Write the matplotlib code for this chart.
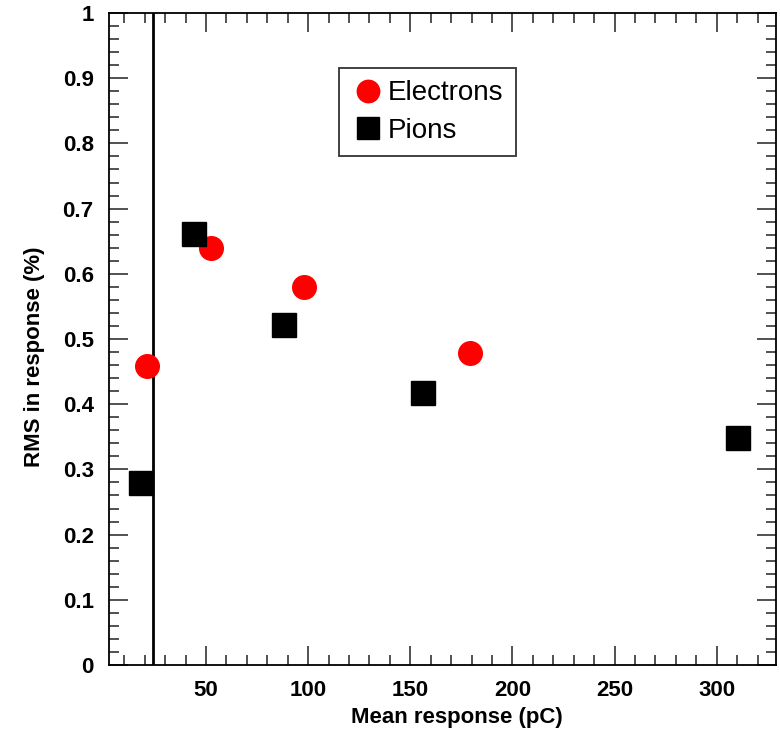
#!/usr/bin/env python3
"""RMS of response vs mean response for electrons and pions."""

import matplotlib
matplotlib.use("Agg")
import matplotlib.pyplot as plt
from matplotlib.ticker import MultipleLocator, FuncFormatter

plt.rcParams["font.family"] = ["Liberation Sans", "DejaVu Sans"]

# data
electron_mean = [21.1, 52.5, 98.1, 179.0]
electron_rms = [0.459, 0.640, 0.580, 0.479]
pion_mean = [18.2, 44.2, 88.3, 156.4, 310.3]
pion_rms = [0.279, 0.661, 0.521, 0.417, 0.348]
cut_x = 24.1

X_RANGE = (2.5, 329)
Y_RANGE = (0, 1)


def fmt_y(v, pos):
    if abs(v - round(v)) < 1e-9:
        return f"{int(round(v))}"
    return f"{v:.1f}"


def main():
    fig = plt.figure(figsize=(7.8, 7.33), dpi=100)
    ax = fig.add_axes([109 / 780, 68 / 733, 667 / 780, 652 / 733])

    ax.axvline(cut_x, color="black", lw=2.0, zorder=2)
    ax.plot(electron_mean, electron_rms, "o", color="#ff0000", ms=17,
            mec="#ff0000", label="Electrons", zorder=3)
    ax.plot(pion_mean, pion_rms, "s", color="black", ms=17,
            label="Pions", zorder=3)

    ax.set_xlim(*X_RANGE)
    ax.set_ylim(*Y_RANGE)

    ax.xaxis.set_major_locator(MultipleLocator(50))
    ax.xaxis.set_minor_locator(MultipleLocator(10))
    ax.yaxis.set_major_locator(MultipleLocator(0.1))
    ax.yaxis.set_minor_locator(MultipleLocator(0.02))
    ax.yaxis.set_major_formatter(FuncFormatter(fmt_y))

    ax.tick_params(which="both", direction="in", top=True, right=True,
                   width=1.2, color="#333333")
    ax.tick_params(which="major", length=14, labelsize=16, pad=11)
    ax.tick_params(which="minor", length=7)
    for lab in ax.get_xticklabels() + ax.get_yticklabels():
        lab.set_fontweight("bold")
    for sp in ax.spines.values():
        sp.set_linewidth(1.3)

    fig.text(457 / 780, 1 - 718 / 733, "Mean response (pC)", ha="center",
             va="center", fontsize=16, fontweight="bold")
    fig.text(35 / 780, 1 - 357 / 733, "RMS in response (%)", ha="center",
             va="center", rotation=90, fontsize=16, fontweight="bold")

    leg = ax.legend(loc="upper left", bbox_to_anchor=((339 - 109) / 667, (665 - 68) / 652),
                    fontsize=20, frameon=True, fancybox=False, borderpad=0.45,
                    handletextpad=0.1, handlelength=1.2, markerscale=0.95,
                    labelspacing=0.4, borderaxespad=0)
    leg.get_frame().set_edgecolor("black")
    leg.get_frame().set_linewidth(1.3)

    fig.savefig("out.png", dpi=100)
    plt.close(fig)


if __name__ == "__main__":
    main()
